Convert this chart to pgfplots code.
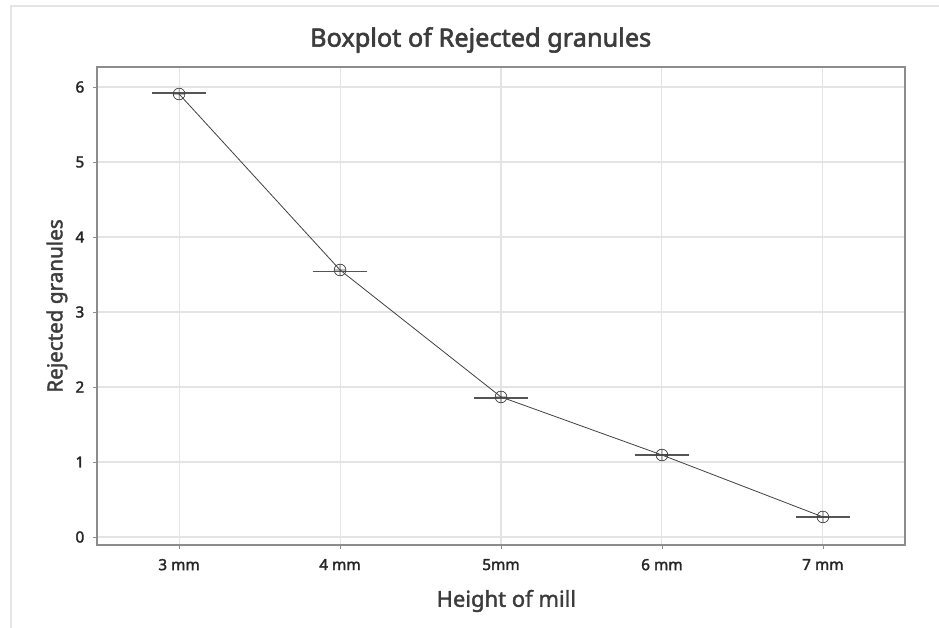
\documentclass[border=0pt]{standalone}
\usepackage{pgfplots}
\pgfplotsset{compat=1.18}
\usepackage{fontspec}
\setmainfont{Noto Sans}
\newcommand\thick[2]{\special{pdf:literal q 2 Tr #1 w 1 j}#2\special{pdf:literal Q}}
\definecolor{gridc}{HTML}{E4E4E4}
\definecolor{framec}{HTML}{8C8C8C}
\definecolor{linec}{HTML}{404040}
\definecolor{medc}{HTML}{555555}
\definecolor{txt}{HTML}{3C3C3C}
\begin{document}
\begin{tikzpicture}
\path[use as bounding box] (0,0) rectangle (704.25pt,471pt);
\draw[gray!20, line width=1.5pt] (8.25pt,0) -- (8.25pt,466.5pt) -- (704.25pt,466.5pt);
\node[font=\fontsize{19}{22}\selectfont, text=txt] at (360.5pt,441pt) {\thick{0.45}{Boxplot of Rejected granules}};
\begin{axis}[
  at={(72.75pt,62.25pt)}, anchor=south west,
  scale only axis, width=606pt, height=358.5pt,
  xmin=-0.51, xmax=4.51, ymin=-0.107, ymax=6.267,
  xtick={0,1,2,3,4},
  xticklabels={\thick{0.25}{3 mm}, \thick{0.25}{4 mm}, \thick{0.25}{5mm}, \thick{0.25}{6 mm}, \thick{0.25}{7 mm}},
  ytick={0,1,2,3,4,5,6},
  yticklabels={\thick{0.25}{0},\thick{0.25}{1},\thick{0.25}{2},\thick{0.25}{3},\thick{0.25}{4},\thick{0.25}{5},\thick{0.25}{6}},
  tick label style={font=\fontsize{11.5}{14}\selectfont, text=black!85},
  xticklabel style={yshift=-4pt},
  yticklabel style={xshift=-3pt},
  tick align=outside, tick pos=left,
  major tick length=3pt,
  every tick/.style={framec, line width=0.6pt},
  axis line style={framec, line width=0.9pt},
  grid=major,
  major grid style={gridc, line width=0.8pt},
  xlabel={\thick{0.3}{Height of mill}}, ylabel={\thick{0.3}{Rejected granules}},
  label style={font=\fontsize{15.5}{18}\selectfont, text=txt},
  xlabel style={font=\fontsize{16.5}{19}\selectfont, at={(axis description cs:0.5,0)}, anchor=center, yshift=-42pt, xshift=4pt},
  ylabel style={at={(axis description cs:0,0.5)}, anchor=center, rotate=0, yshift=30pt},
]
\addplot[linec, line width=0.6pt, mark=none] coordinates {(0,5.907) (1,3.56) (2,1.867) (3,1.093) (4,0.267)};
\addplot[draw=none, mark=none, forget plot,
  error bars/.cd, x dir=both, x fixed=0.168,
  error mark=none, error bar style={medc, line width=1.1pt, solid}]
  coordinates {(0,5.92) (1,3.54) (2,1.853) (3,1.093) (4,0.267)};
\addplot[only marks, mark=oplus, mark size=4.4pt, mark options={draw=linec, line width=0.5pt, fill=none}]
  coordinates {(0,5.907) (1,3.56) (2,1.867) (3,1.093) (4,0.267)};
\end{axis}
\end{tikzpicture}
\end{document}
